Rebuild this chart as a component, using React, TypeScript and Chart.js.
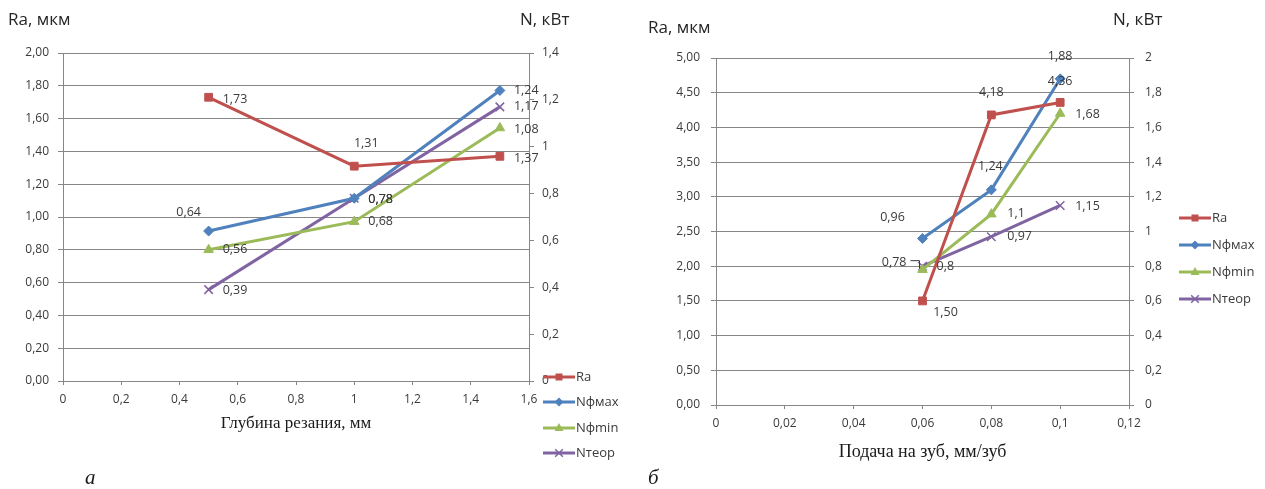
import React, { useEffect, useRef } from 'react';
import { Chart, registerables } from 'chart.js';

Chart.register(...registerables);

// ---------- data ----------
const seriesNames = ['Ra', 'Nфмах', 'Nфmin', 'Nтеор'];
const seriesColors = ['#C0504D', '#4F81BD', '#9BBB59', '#8064A2'];

// panel a: depth of cut
const depthX = [0.5, 1, 1.5];
const depthRa = [1.73, 1.31, 1.37];
const depthNmax = [0.64, 0.78, 1.24];
const depthNmin = [0.56, 0.68, 1.08];
const depthNteor = [0.39, 0.78, 1.17];
const depthXTicks = [0, 0.2, 0.4, 0.6, 0.8, 1, 1.2, 1.4, 1.6];
const depthRaTicks = [0, 0.2, 0.4, 0.6, 0.8, 1, 1.2, 1.4, 1.6, 1.8, 2];
const depthNTicks = [0, 0.2, 0.4, 0.6, 0.8, 1, 1.2, 1.4];

// panel б: feed per tooth
const feedX = [0.06, 0.08, 0.1];
const feedRa = [1.5, 4.18, 4.36];
const feedNmax = [0.96, 1.24, 1.88];
const feedNmin = [0.78, 1.1, 1.68];
const feedNteor = [0.8, 0.97, 1.15];
const feedXTicks = [0, 0.02, 0.04, 0.06, 0.08, 0.1, 0.12];
const feedRaTicks = [0, 0.5, 1, 1.5, 2, 2.5, 3, 3.5, 4, 4.5, 5];
const feedNTicks = [0, 0.2, 0.4, 0.6, 0.8, 1, 1.2, 1.4, 1.6, 1.8, 2];

// ---------- styles ----------
const SANS = '"Open Sans", sans-serif';
const SERIF = '"Liberation Serif", "Times New Roman", serif';
const GRID = '#878787';
const TEXT = '#3a3a3a';
const markerStyles = [
  { style: 'rect', radius: 5.5, bw: 1 },
  { style: 'rectRot', radius: 5, bw: 1 },
  { style: 'triangle', radius: 5.5, bw: 1 },
  { style: 'crossRot', radius: 6, bw: 1.5 },
];

const comma = (s: string) => s.replace('.', ',');
const fmtPlain = (v: number) => comma(String(+v.toFixed(3)));
const fmt2 = (v: number) => comma(v.toFixed(2));

type Place = [CanvasTextAlign, number, number, boolean?];

interface Panel {
  width: number;
  left: number;
  x: number[];
  series: number[][];
  xTicks: number[];
  raTicks: number[];
  nTicks: number[];
  area: { left: number; right: number; top: number; bottom: number };
  yLPad: number;
  yRPad: number;
  places: Place[][];
  raTitle: [number, number];
  nTitle: [number, number];
  xTitle: string;
  xTitleY: number;
  xTitleSize: number;
  letter: string;
  letterPos: [number, number];
  legend: { x: number; ys: number[] };
}

const panels: Panel[] = [
  {
    width: 640,
    left: 0,
    x: depthX,
    series: [depthRa, depthNmax, depthNmin, depthNteor],
    xTicks: depthXTicks,
    raTicks: depthRaTicks,
    nTicks: depthNTicks,
    area: { left: 63, right: 529, top: 53, bottom: 381 },
    yLPad: 9,
    yRPad: 8,
    places: [
      [['left', 14, 2], ['center', 12, -23], ['left', 14, 2]],
      [['center', -20, -19], ['left', 14, 1], ['left', 14, 0]],
      [['left', 14, 0], ['left', 14, 0], ['left', 14, 1]],
      [['left', 14, 1], ['left', 14, 1], ['left', 14, 0]],
    ],
    raTitle: [8, 20],
    nTitle: [520, 20],
    xTitle: 'Глубина резания, мм',
    xTitleY: 424,
    xTitleSize: 17,
    letter: 'а',
    letterPos: [85, 478],
    legend: { x: 543, ys: [377, 402, 428, 453] },
  },
  {
    width: 625,
    left: 640,
    x: feedX,
    series: [feedRa, feedNmax, feedNmin, feedNteor],
    xTicks: feedXTicks,
    raTicks: feedRaTicks,
    nTicks: feedNTicks,
    area: { left: 76, right: 489, top: 58, bottom: 405 },
    yLPad: 11,
    yRPad: 11,
    places: [
      [['center', 23, 12], ['center', 0, -22], ['center', 0, -21]],
      [['center', -30, -21], ['center', -1, -23], ['center', 0, -22]],
      [['right', -16, -7, true], ['left', 16, -1], ['left', 15, 1]],
      [['left', 14, 0], ['left', 16, 0], ['left', 15, 1]],
    ],
    raTitle: [8, 28],
    nTitle: [473, 20],
    xTitle: 'Подача на зуб, мм/зуб',
    xTitleY: 452,
    xTitleSize: 18,
    letter: 'б',
    letterPos: [8, 478],
    legend: { x: 539, ys: [218, 245, 272, 299] },
  },
];

function drawMarker(ctx: CanvasRenderingContext2D, style: string, x: number, y: number, r: number, color: string, bw: number) {
  ctx.save();
  ctx.fillStyle = color;
  ctx.strokeStyle = color;
  ctx.lineWidth = bw;
  ctx.beginPath();
  if (style === 'rect') {
    const h = r * Math.SQRT1_2;
    ctx.rect(x - h, y - h, 2 * h, 2 * h);
    ctx.fill();
  } else if (style === 'rectRot') {
    ctx.moveTo(x, y - r);
    ctx.lineTo(x + r, y);
    ctx.lineTo(x, y + r);
    ctx.lineTo(x - r, y);
    ctx.closePath();
    ctx.fill();
  } else if (style === 'triangle') {
    ctx.moveTo(x, y - r);
    ctx.lineTo(x + r * 0.9, y + r * 0.6);
    ctx.lineTo(x - r * 0.9, y + r * 0.6);
    ctx.closePath();
    ctx.fill();
  } else {
    const h = r * Math.SQRT1_2;
    ctx.moveTo(x - h, y - h);
    ctx.lineTo(x + h, y + h);
    ctx.moveTo(x + h, y - h);
    ctx.lineTo(x - h, y + h);
    ctx.stroke();
  }
  ctx.restore();
}

function makePlugin(p: Panel) {
  return {
    id: 'panelExtras',
    afterDatasetsDraw(chart: any) {
      const ctx: CanvasRenderingContext2D = chart.ctx;
      ctx.save();
      ctx.font = `12.5px ${SANS}`;
      ctx.fillStyle = TEXT;
      ctx.textBaseline = 'middle';
      p.series.forEach((vals, i) => {
        const meta = chart.getDatasetMeta(i);
        vals.forEach((v, j) => {
          const el = meta.data[j];
          const [align, dx, dy, leader] = p.places[i][j];
          const txt = i === 0 ? fmt2(v) : fmtPlain(v);
          ctx.textAlign = align;
          const tx = el.x + dx;
          const ty = el.y + dy;
          ctx.fillText(txt, tx, ty);
          if (leader) {
            ctx.save();
            ctx.strokeStyle = TEXT;
            ctx.lineWidth = 1;
            ctx.beginPath();
            ctx.moveTo(tx + 4, ty - 2);
            ctx.lineTo(el.x - 3, ty - 2);
            ctx.lineTo(el.x - 3, el.y - 1);
            ctx.stroke();
            ctx.restore();
          }
        });
      });
      ctx.restore();
    },
    afterDraw(chart: any) {
      const ctx: CanvasRenderingContext2D = chart.ctx;
      ctx.save();
      ctx.textBaseline = 'middle';
      ctx.textAlign = 'left';
      ctx.fillStyle = '#262626';
      ctx.font = `17px ${SANS}`;
      ctx.fillText('Ra, мкм', p.raTitle[0], p.raTitle[1]);
      ctx.fillText('N, кВт', p.nTitle[0], p.nTitle[1]);
      ctx.fillStyle = '#1a1a1a';
      ctx.font = `${p.xTitleSize}px ${SERIF}`;
      ctx.textAlign = 'center';
      const ca = chart.chartArea;
      ctx.fillText(p.xTitle, (ca.left + ca.right) / 2, p.xTitleY);
      ctx.textAlign = 'left';
      ctx.font = `italic 21px ${SERIF}`;
      ctx.fillText(p.letter, p.letterPos[0], p.letterPos[1]);
      // legend
      ctx.font = `13px ${SANS}`;
      ctx.fillStyle = TEXT;
      seriesNames.forEach((name, i) => {
        const y = p.legend.ys[i];
        const x0 = p.legend.x;
        ctx.save();
        ctx.strokeStyle = seriesColors[i];
        ctx.lineWidth = 3;
        ctx.beginPath();
        ctx.moveTo(x0, y);
        ctx.lineTo(x0 + 32, y);
        ctx.stroke();
        ctx.restore();
        const m = markerStyles[i];
        drawMarker(ctx, m.style, x0 + 16, y, m.radius * 0.9, seriesColors[i], m.bw);
        ctx.fillText(name, x0 + 33, y);
      });
      ctx.restore();
    },
  };
}

function buildConfig(p: Panel): any {
  const datasets = p.series.map((vals, i) => ({
    label: seriesNames[i],
    data: p.x.map((xv, j) => ({ x: xv, y: vals[j] })),
    yAxisID: i === 0 ? 'yL' : 'yR',
    borderColor: seriesColors[i],
    backgroundColor: seriesColors[i],
    borderWidth: 3,
    pointStyle: markerStyles[i].style,
    pointRadius: markerStyles[i].radius,
    pointBorderWidth: markerStyles[i].bw,
    pointBackgroundColor: seriesColors[i],
    pointBorderColor: seriesColors[i],
    tension: 0,
    fill: false,
  }));
  const tickFont = { family: SANS, size: 12 };
  const W = p.width;
  const H = 489;
  return {
    type: 'line',
    data: { datasets },
    plugins: [makePlugin(p)],
    options: {
      animation: false,
      responsive: false,
      devicePixelRatio: 1,
      layout: { padding: { top: p.area.top, left: 0, right: 0, bottom: 0 } },
      plugins: { legend: { display: false }, tooltip: { enabled: false }, title: { display: false } },
      scales: {
        x: {
          type: 'linear',
          min: p.xTicks[0],
          max: p.xTicks[p.xTicks.length - 1],
          afterBuildTicks: (s: any) => {
            s.ticks = p.xTicks.map((v) => ({ value: v }));
          },
          afterFit: (s: any) => {
            s.height = H - p.area.bottom;
          },
          ticks: {
            callback: (v: number) => fmtPlain(v),
            font: tickFont,
            color: TEXT,
            padding: 7,
            maxRotation: 0,
            autoSkip: false,
          },
          grid: { display: true, drawOnChartArea: false, drawTicks: true, tickLength: 4, color: GRID },
          border: { display: true, color: GRID, width: 1 },
        },
        yL: {
          type: 'linear',
          position: 'left',
          min: p.raTicks[0],
          max: p.raTicks[p.raTicks.length - 1],
          afterBuildTicks: (s: any) => {
            s.ticks = p.raTicks.map((v) => ({ value: v }));
          },
          afterFit: (s: any) => {
            s.width = p.area.left;
          },
          ticks: { callback: (v: number) => fmt2(v), font: tickFont, color: TEXT, padding: p.yLPad },
          grid: { display: true, drawOnChartArea: true, drawTicks: true, tickLength: 5, color: GRID, lineWidth: 1 },
          border: { display: true, color: GRID, width: 1 },
        },
        yR: {
          type: 'linear',
          position: 'right',
          min: p.nTicks[0],
          max: p.nTicks[p.nTicks.length - 1],
          afterBuildTicks: (s: any) => {
            s.ticks = p.nTicks.map((v) => ({ value: v }));
          },
          afterFit: (s: any) => {
            s.width = W - p.area.right;
          },
          ticks: { callback: (v: number) => fmtPlain(v), font: tickFont, color: TEXT, padding: p.yRPad },
          grid: { display: true, drawOnChartArea: false, drawTicks: true, tickLength: 5, color: GRID },
          border: { display: true, color: GRID, width: 1 },
        },
      },
    },
  };
}

function ChartPanel({ p }: { p: Panel }) {
  const ref = useRef<HTMLCanvasElement>(null);
  useEffect(() => {
    const chart = new Chart(ref.current as HTMLCanvasElement, buildConfig(p));
    return () => chart.destroy();
  }, [p]);
  return (
    <div style={{ position: 'absolute', left: p.left, top: 0, width: p.width, height: 489 }}>
      <canvas ref={ref} width={p.width} height={489} style={{ width: p.width, height: 489, display: 'block' }} />
    </div>
  );
}

export default function App() {
  return (
    <div style={{ position: 'fixed', left: 0, top: 0, width: 1265, height: 489, background: '#ffffff', overflow: 'hidden' }}>
      {panels.map((p, i) => (
        <ChartPanel key={i} p={p} />
      ))}
    </div>
  );
}
